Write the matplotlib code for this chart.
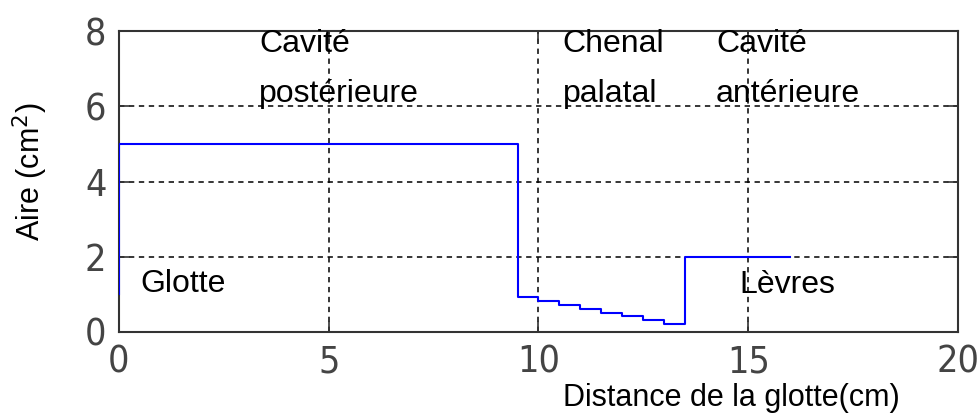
import matplotlib
matplotlib.use("Agg")
import matplotlib.pyplot as plt
from matplotlib import font_manager

# Data
x_edges = [0, 0, 9.5, 10, 10.5, 11, 11.5, 12, 12.5, 13, 13.5, 16]
areas = [1, 5, 0.94, 0.83, 0.72, 0.62, 0.51, 0.42, 0.32, 0.21, 2, 2]
xticks = [0, 5, 10, 15, 20]
yticks = [0, 2, 4, 6, 8]
labels = [("Cavité", 3.34, 7.45), ("postérieure", 3.34, 6.1),
          ("Chenal", 10.58, 7.45), ("palatal", 10.58, 6.1),
          ("Cavité", 14.23, 7.45), ("antérieure", 14.23, 6.1),
          ("Glotte", 0.5, 1.05), ("Lèvres", 14.78, 1.04)]

names = {f.name for f in font_manager.fontManager.ttflist}
if "Liberation Sans Narrow" in names:
    tick_family = ["Liberation Sans Narrow", "DejaVu Sans"]
    tick_stretch = "normal"
elif "DejaVu Sans Condensed" in names:
    tick_family = ["DejaVu Sans Condensed", "DejaVu Sans"]
    tick_stretch = "normal"
else:
    tick_family = ["DejaVu Sans"]
    tick_stretch = "condensed"

W, H = 979, 418
fig = plt.figure(figsize=(W / 100, H / 100), dpi=100)
ax = fig.add_axes([119 / W, 1 - 332 / H, (958 - 119) / W, (332 - 31) / H])

ax.plot(x_edges, areas, drawstyle="steps-post", color="#0000ff", lw=1.5, zorder=3)
ax.set_xlim(0, 20)
ax.set_ylim(0, 8)
ax.set_xticks(xticks)
ax.set_yticks(yticks)
ax.grid(True, color="black", linestyle=(0, (3.5, 3)), linewidth=1.1)
ax.set_axisbelow(True)

for s in ax.spines.values():
    s.set_color("#333333")
    s.set_linewidth(1.5)

ax.tick_params(direction="in", length=8, width=1.2, color="#333333",
               top=True, right=True, labelsize=27, labelcolor="#444444")
ax.tick_params(axis="x", pad=9)
ax.tick_params(axis="y", pad=9)
for lab in ax.get_xticklabels() + ax.get_yticklabels():
    lab.set_family(tick_family)
    lab.set_fontstretch(tick_stretch)
    lab.set_fontweight("light")

txt_family = ["Liberation Sans", "DejaVu Sans"]
for t, x, y in labels:
    ax.text(x, y, t, fontsize=23, family=txt_family, ha="left", va="baseline", zorder=4)

fig.text((562 + 900) / 2 / W, 1 - 406 / H, "Distance de la glotte(cm)", fontsize=22,
         family=txt_family, ha="center", va="baseline")
fig.text(30 / W, 1 - 172 / H, "Aire (cm$^2$)", fontsize=22, family=txt_family,
         rotation=90, ha="center", va="center")

fig.savefig("out.png", dpi=100)
